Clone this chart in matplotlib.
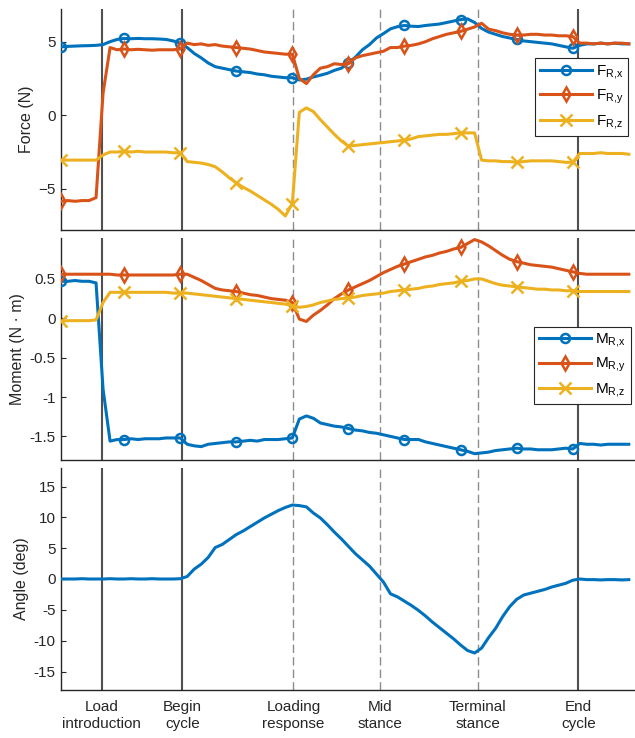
import numpy as np
import matplotlib
matplotlib.use('Agg')
import matplotlib.pyplot as plt

plt.rcParams['font.family'] = ['Liberation Sans', 'DejaVu Sans']
plt.rcParams['font.size'] = 11
plt.rcParams['mathtext.default'] = 'regular'

# ---------------- data ----------------
sample_period = 0.2          # s
n_samples = 82
t = np.arange(n_samples) * sample_period

event_times = [1.16, 3.46, 6.63, 9.11, 11.89, 14.76]
event_labels = ['Load\nintroduction', 'Begin\ncycle', 'Loading\nresponse',
                'Mid\nstance', 'Terminal\nstance', 'End\ncycle']
event_solid = [True, True, False, False, False, True]
marker_idx = [0, 9, 17, 25, 33, 41, 49, 57, 65, 73]

force_x = [4.65, 4.68, 4.70, 4.72, 4.73, 4.75, 4.80, 5.00, 5.15, 5.22,
           5.20, 5.22, 5.20, 5.20, 5.18, 5.15, 5.05, 4.90, 4.60, 4.20,
           3.90, 3.55, 3.30, 3.20, 3.10, 3.00, 2.95, 2.90, 2.80, 2.75,
           2.65, 2.60, 2.55, 2.55, 2.40, 2.45, 2.60, 2.72, 2.85, 3.05,
           3.20, 3.55, 3.95, 4.45, 4.80, 5.25, 5.55, 5.87, 6.02, 6.10,
           6.05, 6.03, 6.10, 6.15, 6.20, 6.30, 6.40, 6.50, 6.55, 6.30,
           5.90, 5.65, 5.50, 5.35, 5.25, 5.15, 5.05, 5.00, 4.95, 4.90,
           4.85, 4.75, 4.65, 4.55, 4.75, 4.85, 4.85, 4.90, 4.85, 4.90,
           4.85, 4.85]
force_y = [-5.85, -5.80, -5.85, -5.80, -5.80, -5.60, 1.50, 4.60, 4.45, 4.50,
           4.45, 4.48, 4.45, 4.42, 4.45, 4.45, 4.45, 4.50, 4.90, 4.80,
           4.85, 4.75, 4.80, 4.70, 4.65, 4.60, 4.55, 4.50, 4.40, 4.30,
           4.25, 4.20, 4.15, 4.15, 2.50, 2.15, 2.75, 3.20, 3.30, 3.50,
           3.45, 3.50, 3.90, 4.05, 4.15, 4.25, 4.35, 4.60, 4.60, 4.70,
           4.75, 4.85, 5.00, 5.20, 5.35, 5.50, 5.60, 5.70, 5.85, 6.00,
           6.25, 5.85, 5.75, 5.60, 5.50, 5.45, 5.45, 5.50, 5.50, 5.45,
           5.45, 5.40, 5.40, 5.35, 4.90, 4.90, 4.85, 4.90, 4.85, 4.90,
           4.90, 4.85]
force_z = [-3.05, -3.05, -3.05, -3.05, -3.05, -3.05, -2.70, -2.50, -2.50, -2.45,
           -2.50, -2.45, -2.50, -2.50, -2.50, -2.50, -2.55, -2.55, -3.15, -3.20,
           -3.25, -3.35, -3.50, -3.85, -4.25, -4.60, -4.90, -5.15, -5.45, -5.75,
           -6.05, -6.40, -6.85, -6.00, 0.20, 0.50, 0.25, -0.30, -0.80, -1.30,
           -1.75, -2.10, -2.05, -2.00, -1.95, -1.90, -1.85, -1.80, -1.75, -1.70,
           -1.60, -1.45, -1.40, -1.35, -1.30, -1.30, -1.25, -1.20, -1.20, -1.20,
           -3.05, -3.10, -3.10, -3.15, -3.15, -3.20, -3.15, -3.10, -3.10, -3.10,
           -3.10, -3.15, -3.20, -3.20, -2.60, -2.60, -2.60, -2.55, -2.60, -2.60,
           -2.60, -2.65]

moment_x = [0.47, 0.47, 0.48, 0.47, 0.47, 0.45, -0.90, -1.56, -1.54, -1.54,
            -1.53, -1.54, -1.53, -1.53, -1.53, -1.52, -1.52, -1.52, -1.60, -1.62,
            -1.63, -1.60, -1.59, -1.58, -1.57, -1.57, -1.56, -1.55, -1.56, -1.54,
            -1.54, -1.54, -1.53, -1.52, -1.28, -1.24, -1.27, -1.33, -1.35, -1.37,
            -1.38, -1.40, -1.42, -1.43, -1.45, -1.46, -1.48, -1.50, -1.52, -1.54,
            -1.54, -1.54, -1.57, -1.59, -1.61, -1.63, -1.65, -1.67, -1.69, -1.72,
            -1.71, -1.70, -1.68, -1.67, -1.66, -1.65, -1.66, -1.66, -1.67, -1.67,
            -1.67, -1.66, -1.65, -1.66, -1.59, -1.60, -1.60, -1.61, -1.60, -1.60,
            -1.60, -1.60]
moment_y = [0.56, 0.56, 0.56, 0.56, 0.56, 0.56, 0.56, 0.56, 0.55, 0.55,
            0.55, 0.55, 0.55, 0.55, 0.55, 0.55, 0.55, 0.56, 0.56, 0.52,
            0.48, 0.43, 0.38, 0.36, 0.35, 0.34, 0.32, 0.30, 0.29, 0.27,
            0.25, 0.24, 0.23, 0.20, -0.01, -0.04, 0.04, 0.10, 0.17, 0.25,
            0.31, 0.36, 0.40, 0.44, 0.48, 0.53, 0.58, 0.62, 0.66, 0.69,
            0.72, 0.75, 0.78, 0.80, 0.83, 0.85, 0.88, 0.90, 0.95, 1.00,
            0.97, 0.92, 0.86, 0.80, 0.75, 0.72, 0.70, 0.68, 0.67, 0.66,
            0.65, 0.63, 0.61, 0.59, 0.57, 0.56, 0.56, 0.56, 0.56, 0.56,
            0.56, 0.56]
moment_z = [-0.04, -0.03, -0.03, -0.03, -0.03, -0.02, 0.20, 0.33, 0.33, 0.33,
            0.33, 0.33, 0.33, 0.33, 0.33, 0.33, 0.32, 0.32, 0.32, 0.31,
            0.30, 0.29, 0.28, 0.27, 0.26, 0.25, 0.24, 0.23, 0.22, 0.21,
            0.20, 0.19, 0.18, 0.16, 0.14, 0.15, 0.17, 0.20, 0.22, 0.24,
            0.25, 0.26, 0.27, 0.29, 0.30, 0.31, 0.32, 0.34, 0.35, 0.36,
            0.37, 0.38, 0.40, 0.41, 0.43, 0.44, 0.45, 0.47, 0.48, 0.50,
            0.50, 0.47, 0.44, 0.42, 0.41, 0.40, 0.39, 0.38, 0.37, 0.37,
            0.36, 0.36, 0.35, 0.35, 0.34, 0.34, 0.34, 0.34, 0.34, 0.34,
            0.34, 0.34]

angle = [0.00, 0.00, 0.00, 0.05, 0.00, 0.00, 0.00, 0.05, 0.00, 0.00,
         0.05, 0.00, 0.00, 0.05, 0.00, 0.00, 0.00, 0.05, 0.40, 1.60,
         2.40, 3.50, 5.10, 5.60, 6.40, 7.20, 7.80, 8.50, 9.20, 9.90,
         10.50, 11.10, 11.60, 12.00, 11.90, 11.70, 10.70, 9.90, 8.80, 7.60,
         6.50, 5.30, 4.10, 3.10, 2.10, 0.80, -0.50, -2.40, -2.90, -3.60,
         -4.30, -5.10, -6.00, -7.00, -7.90, -8.80, -9.70, -10.70, -11.60, -12.00,
         -11.20, -9.50, -8.00, -6.10, -4.50, -3.30, -2.60, -2.30, -2.00, -1.70,
         -1.30, -1.00, -0.70, -0.20, 0.00, -0.10, -0.10, -0.15, -0.10, -0.10,
         -0.15, -0.10]

force_labels = [r'$F_{R{,}x}$', r'$F_{R{,}y}$', r'$F_{R{,}z}$']
moment_labels = [r'$M_{R{,}x}$', r'$M_{R{,}y}$', r'$M_{R{,}z}$']

# ---------------- style ----------------
colors = ['#0072BD', '#D95319', '#EDB120']
markers = ['o', 'd', 'x']
msizes = [6.5, 7, 8.5]
axis_color = '#262626'

fig = plt.figure(figsize=(6.35, 7.38), dpi=100)
W, H = 635.0, 738.0
left_px, right_px = 61.0, 635.0
rects_px = [(9.3, 230.0), (238.0, 460.0), (468.0, 690.0)]
axes = []
for top, bot in rects_px:
    ax = fig.add_axes([left_px / W, 1 - bot / H, (right_px - left_px) / W, (bot - top) / H])
    axes.append(ax)

xmax = (right_px - left_px) / 35.05


def style_axis(ax, show_xlabels):
    for s in ['top', 'right']:
        ax.spines[s].set_visible(False)
    for s in ['left', 'bottom']:
        ax.spines[s].set_color(axis_color)
        ax.spines[s].set_linewidth(1.0)
    ax.set_xlim(0, xmax)
    ax.tick_params(axis='y', direction='in', length=3.6, width=0.8, pad=4,
                   colors=axis_color, labelsize=11)
    ax.tick_params(axis='x', direction='in', length=0, pad=7,
                   colors=axis_color, labelsize=11)
    ax.set_xticks(event_times)
    if show_xlabels:
        ax.set_xticklabels(event_labels)
        for lab in ax.get_xticklabels():
            lab.set_linespacing(1.3)
    else:
        ax.set_xticklabels([])
    for et, solid in zip(event_times, event_solid):
        if solid:
            ax.axvline(et, color='#505050', lw=1.5, zorder=1)
        else:
            ax.axvline(et, color='#8c8c8c', lw=1.0, dashes=(6, 3), zorder=1)


def plot_series(ax, series, labels):
    for vals, c, m, ms, lab in zip(series, colors, markers, msizes, labels):
        ax.plot(t, vals, color=c, lw=2.2, marker=m, ms=ms, mew=1.8,
                markerfacecolor='none', markevery=marker_idx, label=lab, zorder=3)


# top: force
ax = axes[0]
style_axis(ax, False)
plot_series(ax, [force_x, force_y, force_z], force_labels)
ax.set_ylim(-7.8, 7.2)
ax.set_yticks([-5, 0, 5])
ax.set_ylabel('Force (N)', color=axis_color, labelpad=3, fontsize=11.5)
leg = ax.legend(loc='upper right', bbox_to_anchor=(0.9884, 0.778), borderaxespad=0,
                handlelength=3.4, handletextpad=0.3, borderpad=0.3, labelspacing=0.45,
                fancybox=False, framealpha=1, edgecolor=axis_color)
leg.get_frame().set_linewidth(0.8)
leg.set_zorder(10)

# middle: moment
ax = axes[1]
style_axis(ax, False)
plot_series(ax, [moment_x, moment_y, moment_z], moment_labels)
ax.set_ylim(-1.8, 1.02)
ax.set_yticks([-1.5, -1, -0.5, 0, 0.5])
ax.set_yticklabels(['-1.5', '-1', '-0.5', '0', '0.5'])
ax.set_ylabel('Moment (N \u00b7 m)', color=axis_color, labelpad=3, fontsize=11.5)
leg = ax.legend(loc='upper right', bbox_to_anchor=(0.9925, 0.6005), borderaxespad=0,
                handlelength=3.4, handletextpad=0.3, borderpad=0.3, labelspacing=0.45,
                fancybox=False, framealpha=1, edgecolor=axis_color)
leg.get_frame().set_linewidth(0.8)
leg.set_zorder(10)

# bottom: angle
ax = axes[2]
style_axis(ax, True)
ax.plot(t, angle, color=colors[0], lw=2.2, zorder=3)
ax.set_ylim(-18, 18)
ax.set_yticks([-15, -10, -5, 0, 5, 10, 15])
ax.set_yticklabels(['-15', '-10', '-5', '0', '5', '10', '15'])
ax.set_ylabel('Angle (deg)', color=axis_color, labelpad=3, fontsize=11.5)

fig.savefig('out.png', dpi=100)
